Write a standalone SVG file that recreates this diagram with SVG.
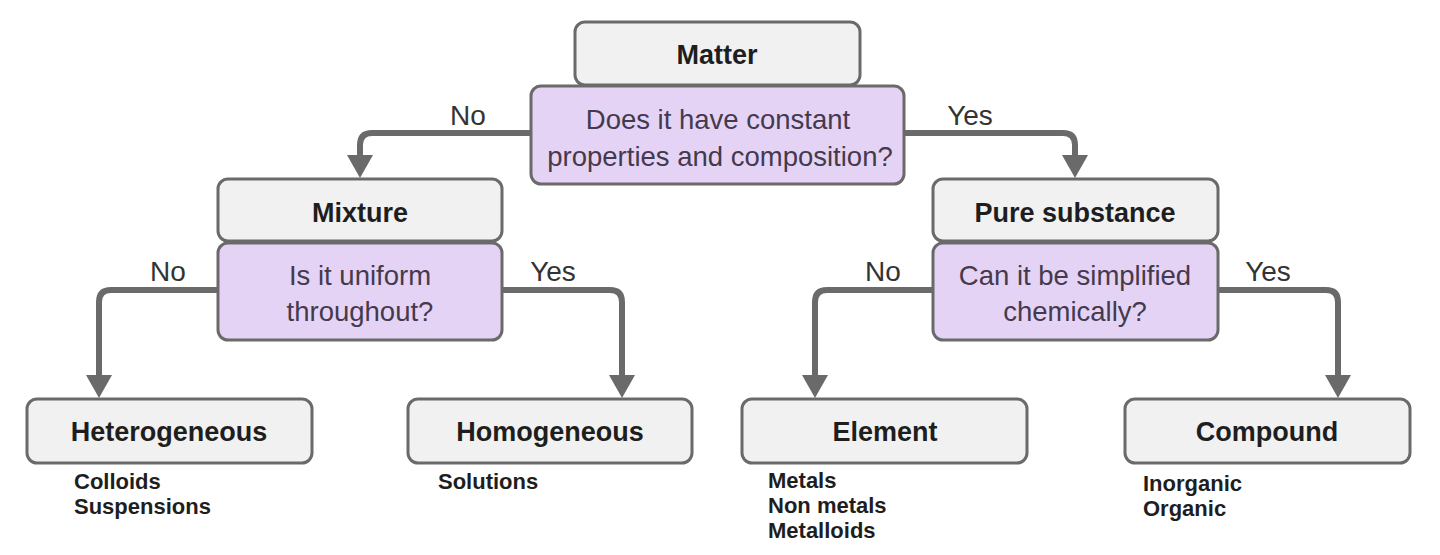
<svg xmlns="http://www.w3.org/2000/svg" width="1440" height="555" viewBox="0 0 1440 555">
<defs>
<style>
.box{fill:#f1f1f1;stroke:#6a6a6a;stroke-width:3}
.q{fill:#e5d3f6;stroke:#6a6a6a;stroke-width:3}
.t{font-family:"Liberation Sans",Arial,sans-serif;font-weight:bold;font-size:27px;fill:#1e1e1e;text-anchor:middle}
.qt{font-family:"Liberation Sans",Arial,sans-serif;font-size:27.5px;fill:#443a4c;text-anchor:middle}
.lb{font-family:"Liberation Sans",Arial,sans-serif;font-size:28px;fill:#333;text-anchor:middle}
.sub{font-family:"Liberation Sans",Arial,sans-serif;font-weight:bold;font-size:22px;fill:#1e1e1e}
.c{fill:none;stroke:#6a6a6a;stroke-width:6}
</style>
<marker id="ah" markerUnits="userSpaceOnUse" markerWidth="24" markerHeight="26" refX="0" refY="13" orient="auto" viewBox="0 0 24 26">
<path d="M0,0 L23,13 L0,26 z" fill="#6a6a6a"/>
</marker>
</defs>
<rect width="1440" height="555" fill="#ffffff"/>
<g id="connectors">
<path class="c" d="M531,133 H372 Q360,133 360,145 V155" marker-end="url(#ah)"/>
<path class="c" d="M904,133 H1063 Q1075,133 1075,145 V155" marker-end="url(#ah)"/>
<path class="c" d="M218,290 H111 Q99,290 99,302 V375" marker-end="url(#ah)"/>
<path class="c" d="M502,290 H610 Q622,290 622,302 V375" marker-end="url(#ah)"/>
<path class="c" d="M933,290 H827 Q815,290 815,302 V375" marker-end="url(#ah)"/>
<path class="c" d="M1218,290 H1326 Q1338,290 1338,302 V375" marker-end="url(#ah)"/>
<text class="lb" x="468" y="125">No</text>
<text class="lb" x="970" y="125">Yes</text>
<text class="lb" x="168" y="281">No</text>
<text class="lb" x="553" y="281">Yes</text>
<text class="lb" x="883" y="281">No</text>
<text class="lb" x="1268" y="281">Yes</text>
</g>
<g id="matter">
<rect class="box" x="575" y="22" width="285" height="63" rx="10"/>
<text class="t" x="717" y="64">Matter</text>
</g>
<g id="q1">
<rect class="q" x="531" y="86" width="373" height="98" rx="10"/>
<text class="qt" x="718" y="129">Does it have constant</text>
<text class="qt" x="720" y="166">properties and composition?</text>
</g>
<g id="mixture">
<rect class="box" x="218" y="179" width="284" height="62" rx="10"/>
<text class="t" x="360" y="222">Mixture</text>
</g>
<g id="q2">
<rect class="q" x="218" y="243" width="284" height="97" rx="10"/>
<text class="qt" x="360" y="285">Is it uniform</text>
<text class="qt" x="360" y="321">throughout?</text>
</g>
<g id="pure">
<rect class="box" x="933" y="179" width="285" height="62" rx="10"/>
<text class="t" x="1075" y="222">Pure substance</text>
</g>
<g id="q3">
<rect class="q" x="933" y="243" width="285" height="97" rx="10"/>
<text class="qt" x="1075" y="285">Can it be simplified</text>
<text class="qt" x="1075" y="321">chemically?</text>
</g>
<g id="heterogeneous">
<rect class="box" x="27" y="399" width="285" height="64" rx="10"/>
<text class="t" x="169" y="441">Heterogeneous</text>
<text class="sub" x="74" y="489">Colloids</text>
<text class="sub" x="74" y="514">Suspensions</text>
</g>
<g id="homogeneous">
<rect class="box" x="408" y="399" width="284" height="64" rx="10"/>
<text class="t" x="550" y="441">Homogeneous</text>
<text class="sub" x="438" y="489">Solutions</text>
</g>
<g id="element">
<rect class="box" x="742" y="399" width="285" height="64" rx="10"/>
<text class="t" x="885" y="441">Element</text>
<text class="sub" x="768" y="488">Metals</text>
<text class="sub" x="768" y="513">Non metals</text>
<text class="sub" x="768" y="538">Metalloids</text>
</g>
<g id="compound">
<rect class="box" x="1125" y="399" width="285" height="64" rx="10"/>
<text class="t" x="1267" y="441">Compound</text>
<text class="sub" x="1143" y="491">Inorganic</text>
<text class="sub" x="1143" y="516">Organic</text>
</g>
</svg>
